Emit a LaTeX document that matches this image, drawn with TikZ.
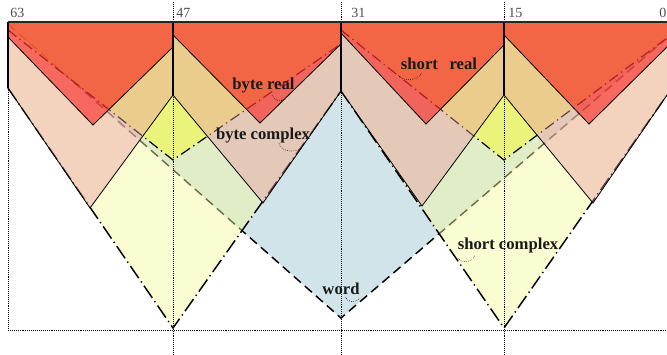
\documentclass[tikz,border=0pt]{standalone}
\usepackage{fontspec}
\setmainfont{Liberation Serif}
\definecolor{wordc}{RGB}{208,228,234}
\definecolor{scc}{RGB}{244,249,155}
\definecolor{src}{RGB}{244,250,60}
\definecolor{bcc}{RGB}{236,154,166}
\definecolor{brc}{RGB}{252,0,0}
\begin{document}
\begin{tikzpicture}[x=0.75pt,y=-0.75pt,
  wordln/.style={line width=1.1pt, dash pattern=on 7pt off 4pt},
  scln/.style={line width=1.1pt, dash pattern=on 11pt off 3pt on 1pt off 3pt},
  sln/.style={line width=0.9pt, dash pattern=on 8pt off 3pt on 1pt off 3pt},
  edgeln/.style={line width=0.6pt},
  boldln/.style={line width=1.3pt},
  guide/.style={line width=0.45pt, densely dotted},
  lbl/.style={font=\fontsize{12.5}{14}\selectfont\bfseries, inner sep=0pt, text=black!90},
  num/.style={font=\fontsize{10.5}{12}\selectfont, inner sep=0pt, text=black!70, anchor=west},
  leader/.style={line width=0.45pt, densely dotted}]
\useasboundingbox (0,0) rectangle (667,354);

% word
\fill[wordc] (8,22) -- (667,22) -- (667,38) -- (341,318) -- (8,24) -- cycle;
\draw[wordln] (8,24) -- (341,318) -- (667,38);

% short complex
\fill[scc, fill opacity=0.45] (8,22) -- (341,22) -- (341,91) -- (173,328) -- (8,88) -- cycle;
\fill[scc, fill opacity=0.45] (341,22) -- (667,22) -- (667,95) -- (504,328) -- (341,91) -- cycle;
\draw[scln] (8,88) -- (173,328) -- (341,91);
\draw[scln] (341,91) -- (504,328) -- (667,95);

% short real
\fill[src, fill opacity=0.55] (8,22) -- (341,22) -- (341,44) -- (173,160) -- (8,30) -- cycle;
\fill[src, fill opacity=0.55] (341,22) -- (667,22) -- (667,38) -- (504,160) -- (341,30) -- cycle;
\draw[sln] (8,30) -- (173,160) -- (341,44);
\draw[sln] (341,30) -- (504,160) -- (667,38);

% byte complex
\foreach \p in {
  {(8,22) -- (173,22) -- (173,95) -- (90,208) -- (8,88) -- cycle},
  {(173,22) -- (341,22) -- (341,91) -- (263,203) -- (173,95) -- cycle},
  {(341,22) -- (504,22) -- (504,95) -- (422,206) -- (341,91) -- cycle},
  {(504,22) -- (667,22) -- (667,95) -- (593,203) -- (504,95) -- cycle}}
  {\fill[bcc, fill opacity=0.43] \p;}
\draw[edgeln] (8,88) -- (90,208) -- (173,95) -- (263,203) -- (341,91) -- (422,206) -- (504,95) -- (593,203) -- (667,95);

% byte real
\fill[brc, fill opacity=0.5] (8,22) -- (173,22) -- (173,47) -- (93,125) -- (8,37) -- cycle;
\fill[brc, fill opacity=0.5] (173,22) -- (341,22) -- (341,44) -- (260,123) -- (173,35) -- cycle;
\fill[brc, fill opacity=0.5] (341,22) -- (504,22) -- (504,45) -- (426,124) -- (341,33) -- cycle;
\fill[brc, fill opacity=0.5] (504,22) -- (667,22) -- (667,47) -- (589,124) -- (504,35) -- cycle;
\draw[edgeln] (8,37) -- (93,125) -- (173,47);
\draw[edgeln] (173,35) -- (260,123) -- (341,44);
\draw[edgeln] (341,33) -- (426,124) -- (504,45);
\draw[edgeln] (504,35) -- (589,124) -- (667,47);

% guides
\draw[guide] (8,88) -- (8,330);
\draw[guide] (173,2) -- (173,354);
\draw[guide] (341,2) -- (341,354);
\draw[guide] (504,2) -- (504,354);
\draw[guide] (8,330) -- (667,330);

% verticals and top
\draw[boldln] (8,22) -- (8,88);
\draw[boldln] (173,22) -- (173,95);
\draw[boldln] (341,22) -- (341,91);
\draw[boldln] (504,22) -- (504,95);
\draw[line width=1.4pt, black!85] (8,22) -- (667,22);

% bit numbers
\node[num] (n63) at (10,13) {63};
\node[num] (n47) at (176,13) {47};
\node[num] (n31) at (351,13) {31};
\node[num] (n15) at (508,13) {15};
\node[num] (n0) at (659,13) {0};

% labels
\node[lbl] (br) at (263.5,86) {byte real};
\node[lbl] (bc) at (263,135.5) {byte complex};
\node[lbl] (sr) at (439,64) {short\hspace{0.7em}real};
\node[lbl] (sc) at (508,245.5) {short complex};
\node[lbl] (wd) at (341,289) {word};

% leaders
\coordinate (brA) at (272,95);  \coordinate (brB) at (285,99);
\coordinate (bcA) at (279,143); \coordinate (bcB) at (302,148);
\coordinate (srA) at (398,75);  \coordinate (srB) at (422,73);
\coordinate (scA) at (458,258); \coordinate (scB) at (475,255);
\coordinate (wdA) at (345,297); \coordinate (wdB) at (360,298);
\draw[leader] (brA) .. controls (274,101) and (281,102) .. (brB);
\draw[leader] (bcA) .. controls (281,152) and (294,153) .. (bcB);
\draw[leader] (srA) .. controls (402,81) and (416,82) .. (srB);
\draw[leader] (scA) .. controls (462,264) and (471,263) .. (scB);
\draw[leader] (wdA) .. controls (348,303) and (356,303) .. (wdB);
\end{tikzpicture}
\end{document}
